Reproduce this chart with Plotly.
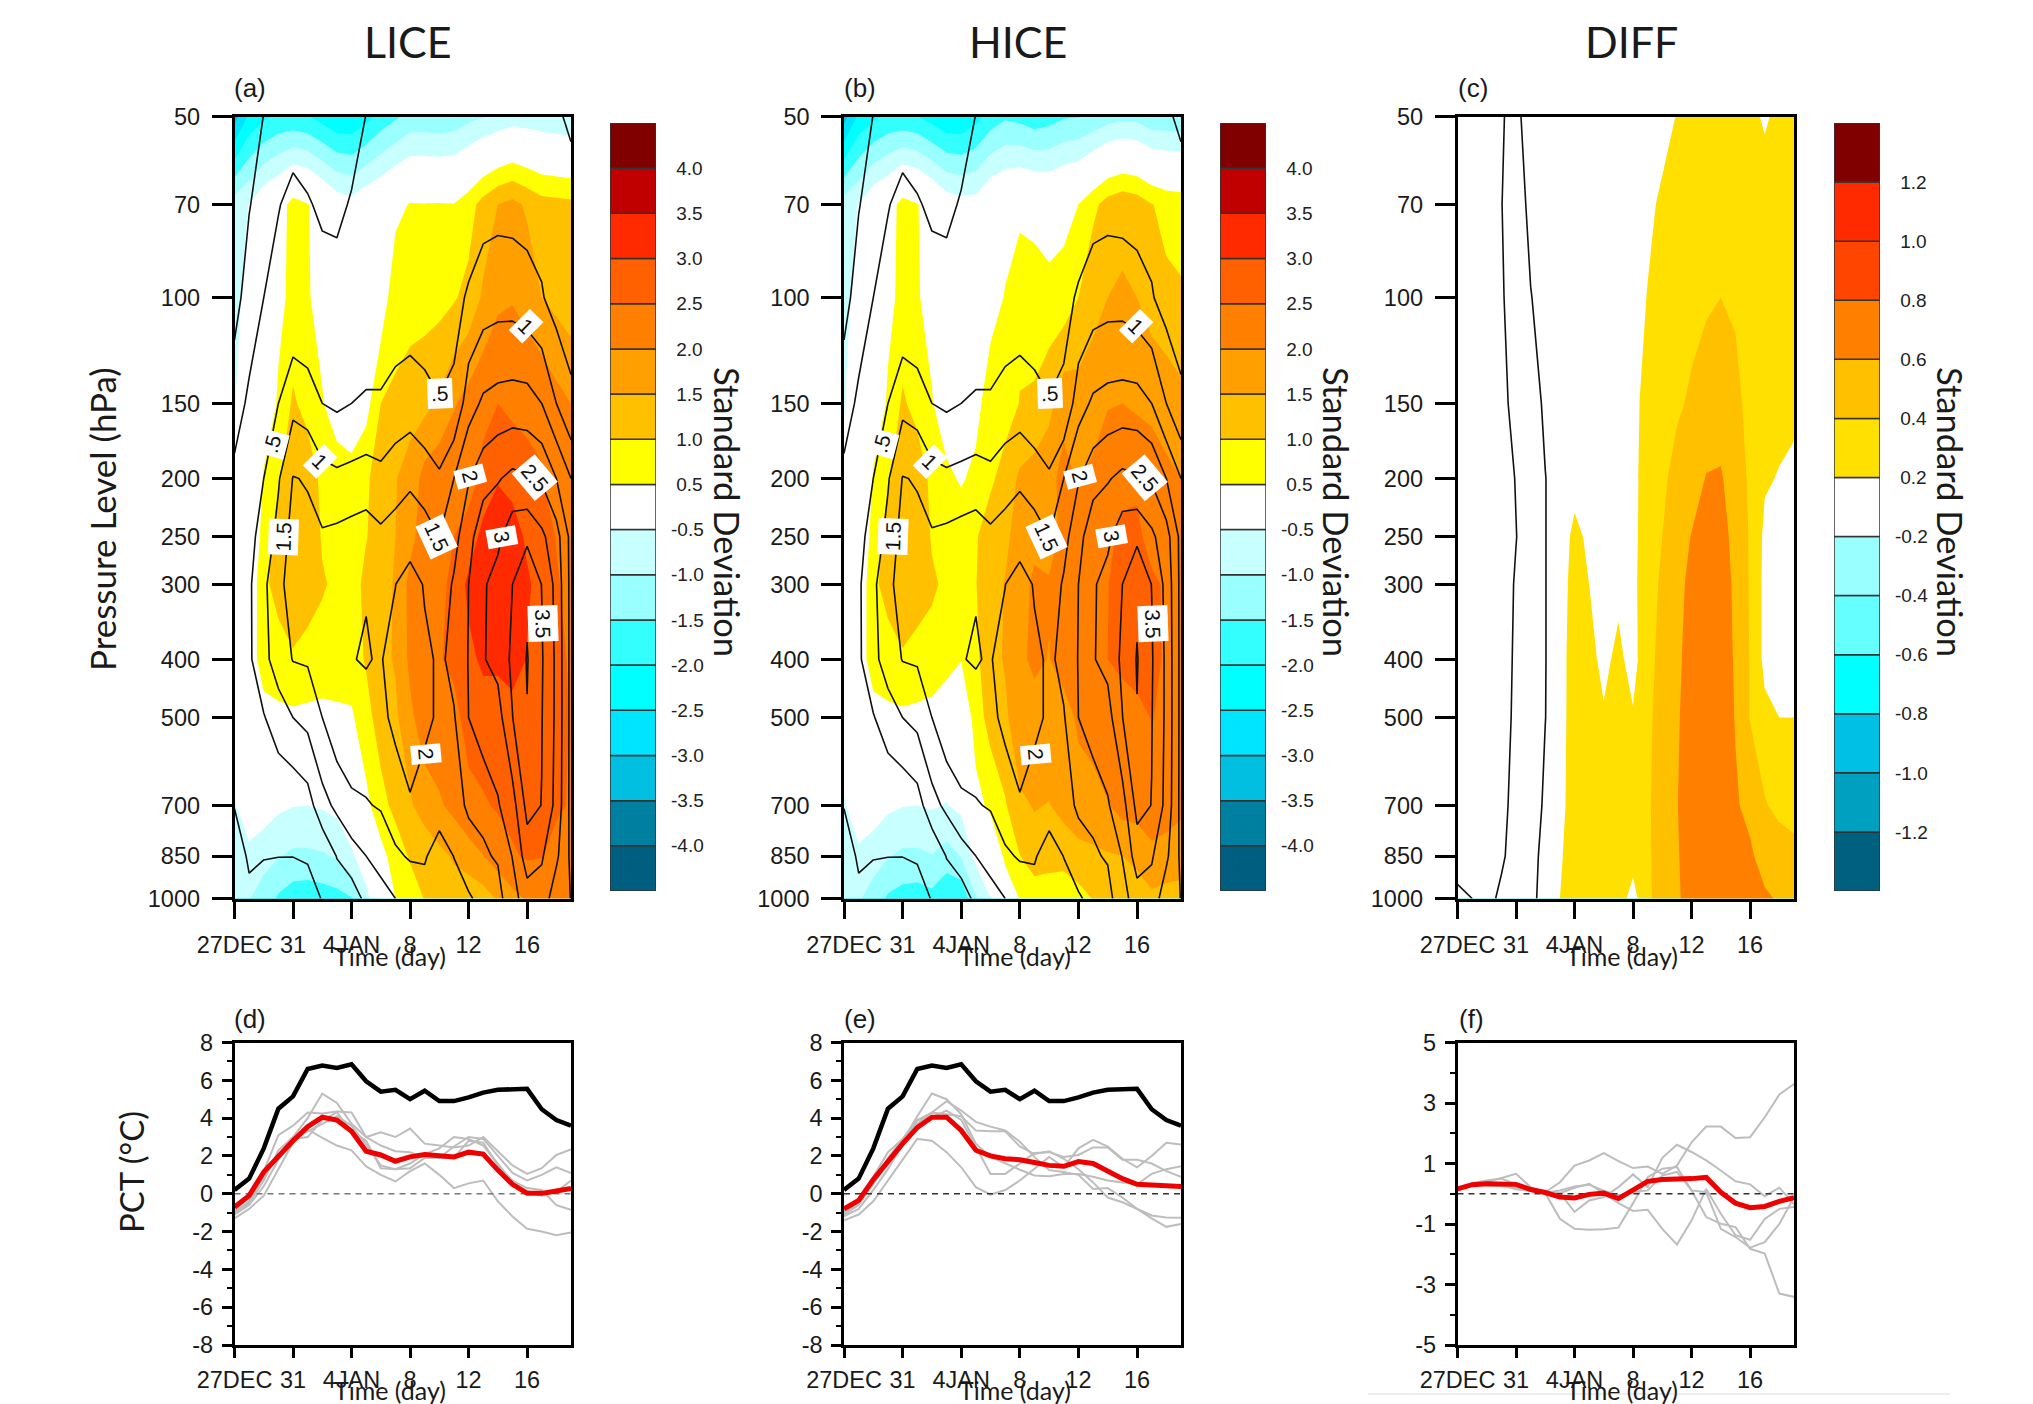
import numpy as np
import plotly.graph_objects as go

W, H = 2033, 1404
pressure_levels = [50, 70, 100, 150, 200, 250, 300, 400, 500, 700, 850, 1000]
days = list(range(24))
day_ticks = [0, 4, 8, 12, 16, 20]
day_labels = ["27DEC", "31", "4JAN", "8", "12", "16"]

# Each row: one day, values at pressure_levels (50 ... 1000 hPa)
all_lines = [
    [-1.3,-1.0,-0.7,-0.2,0.1,0.2,0.3,0.3,0.2,0.02,-0.3,-0.5],
    [-1.2,-0.53,-0.25,0.08,0.25,0.35,0.42,0.42,0.3,0.15,0.08,-0.12],
    [-0.47,-0.25,0,0.3,0.5,0.7,0.9,0.85,0.47,0.25,0.03,-0.3],
    [-0.35,-0.03,0.22,0.5,0.95,1.15,1.35,1.25,0.75,0.13,0.01,-0.35],
    [-0.3,0.17,0.05,0.85,1.52,1.7,1.75,1.52,1.0,0.12,0.01,-0.4],
    [-0.28,0.04,0.02,0.74,1.47,1.6,1.75,1.55,1.15,0.28,0.08,-0.34],
    [-0.25,-0.08,0.2,0.5,1.17,1.56,1.65,1.62,1.5,0.83,0.1,0.04],
    [-0.28,-0.1,0.18,0.42,1.1,1.62,1.75,1.85,1.89,1.11,0.52,0.2],
    [-0.2,0.04,0.2,0.5,1.15,1.69,1.9,1.99,1.82,1.42,0.77,0.25],
    [0.01,0.15,0.3,0.53,1.22,1.74,1.985,2.02,1.9,1.46,1.0,0.62],
    [0.1,0.2,0.3,0.53,1.14,1.6,1.85,1.97,1.9,1.55,1.1,0.9],
    [0.15,0.25,0.35,0.58,1.37,1.62,1.99,2.2,2.1,1.78,1.42,1.0],
    [0.2,0.26,0.26,0.7,1.48,1.57,2.39,2.45,2.4,1.93,1.55,1.15],
    [0.25,0.3,0.35,0.57,1.29,1.68,1.93,2.15,2.12,1.77,1.55,1.3],
    [0.3,0.32,0.38,0.51,1.07,1.5,1.75,1.9,1.92,1.75,1.25,1.2],
    [0.35,0.4,0.45,0.53,1.5,1.85,2.05,2.15,1.96,1.75,1.51,1.3],
    [0.4,0.4,0.52,1.29,1.97,2.3,2.5,2.52,2.5,2.1,1.7,1.46],
    [0.3,0.32,0.745,1.58,2.28,2.87,2.95,2.97,2.85,2.09,1.95,1.6],
    [0.32,0.35,0.8,1.667,2.46,2.9,3.16,3.15,2.8,2.46,2.04,1.85],
    [0.35,0.33,0.8,1.7,2.62,3.29,3.5,3.6,3.49,2.8,2.52,2.3],
    [0.32,0.31,0.696,1.69,2.55,3.4,3.9,4.03,3.98,3.65,3.25,2.77],
    [0.2,0.3,0.54,1.5,2.44,3.1,3.49,3.55,3.52,3.49,3.05,2.8],
    [0.1,0.28,0.29,1.0,2.0,2.7,2.85,2.9,2.9,2.85,2.6,2.2],
    [-0.12,0.3,0.42,0.53,1.5,1.85,1.85,1.85,1.85,1.85,1.9,1.99],
]
lice_fill = [
    [-3.2,-.75,-.62,-.52,-.4,-.3,-.25,-.1,-.1,-.55,-.7,-.85],
    [-2.4,-.48,-.35,-.25,-.15,-.05,.1,.15,.15,-.2,-.62,-.98],
    [-2.1,-.05,0,.2,.55,.7,.85,.8,.25,-.2,-.85,-1.19],
    [-1.9,.2,.4,.55,.92,1.25,1.25,.7,.42,-.4,-.97,-1.57],
    [-1.9,.7,.6,1.08,1.35,1.45,1.4,.93,.4,-.48,-1.1,-1.77],
    [-1.97,.53,.55,.8,1.36,1.4,1.45,.67,.44,-.5,-1.1,-1.81],
    [-2.2,.2,.3,.54,.85,.95,1.05,.8,.35,-.45,-1.05,-1.75],
    [-2.42,-.17,0,.15,.84,.9,.9,.82,.38,-.35,-.95,-1.67],
    [-2.43,-.3,-.1,.2,.65,.78,.8,.8,.42,-.1,-.58,-1.53],
    [-2.17,-.05,.05,.3,.95,.98,1.12,1.04,.85,.35,-.2,-.64],
    [-1.8,.1,.15,1.0,1.15,1.2,1.3,1.35,1.2,.85,.31,-.05],
    [-1.58,.35,.85,1.06,1.48,1.5,1.55,1.55,1.4,1.12,.75,.5],
    [-1.33,.53,.7,1.35,1.65,1.85,2.15,2.1,1.9,1.42,1.05,.75],
    [-1.33,.52,.8,1.35,2.2,2.25,2.3,2.3,2.25,1.78,1.1,1.02],
    [-1.37,.53,.82,1.6,2.35,2.35,2.4,2.45,2.35,1.93,1.38,1.1],
    [-1.3,.52,.95,1.95,2.45,2.5,2.6,2.65,2.3,2.15,1.55,1.3],
    [-1.13,.78,1.15,2.2,2.35,2.65,3.13,2.87,2.75,2.31,1.82,1.09],
    [-1.02,1.2,1.58,2.4,2.6,3.2,3.25,3.1,2.75,2.45,1.99,1.27],
    [-.9,1.5,1.9,2.5,2.95,3.4,3.42,3.12,2.7,2.55,2.25,1.56],
    [-.76,1.65,1.97,2.4,2.8,3.28,3.35,3.35,2.7,2.62,2.45,1.86],
    [-.8,1.42,1.85,2.33,2.7,2.9,3.08,2.97,2.9,2.85,2.55,2.05],
    [-.85,1.2,1.5,2.43,2.52,2.75,2.8,2.8,2.75,2.75,2.52,2.05],
    [-.9,1.16,1.35,2.18,2.3,2.48,2.55,2.62,2.62,2.6,2.29,2.05],
    [-.95,1.12,1.2,2.0,2.1,2.25,2.35,2.45,2.48,2.45,2.15,2.05],
]
hice_fill = [
    [-3.2,-.75,-.62,-.52,-.4,-.3,-.25,-.1,-.1,-.55,-.7,-.85],
    [-2.4,-.48,-.35,-.25,-.15,-.05,.1,.15,.15,-.2,-.6,-.95],
    [-2.1,-.05,0,.2,.55,.7,.85,.8,.25,-.2,-.8,-1.19],
    [-1.9,.2,.4,.55,.92,1.25,1.25,.7,.42,-.4,-.97,-1.57],
    [-1.9,.7,.6,1.08,1.35,1.45,1.4,.93,.4,-.48,-1.1,-1.7],
    [-1.97,.53,.55,.8,1.36,1.4,1.45,.67,.44,-.5,-1.1,-1.75],
    [-2.2,.2,.3,.54,.85,.95,1.08,.8,.33,-.45,-1.02,-1.65],
    [-2.42,-.17,0,.1,.65,.8,.9,.82,-.1,-.52,-1.2,-1.95],
    [-2.43,-.3,-.1,.1,.42,.95,.9,.52,-.1,-.38,-.98,-1.91],
    [-2.17,-.28,.05,.25,.68,.95,.98,.9,.75,.31,-.35,-1.05],
    [-1.78,.07,.2,.9,.9,1.3,1.35,1.3,1.2,.62,-.05,-.5],
    [-1.57,.22,.54,.75,1.22,1.4,1.52,1.55,1.4,.95,.6,.15],
    [-1.65,.35,.85,1.02,1.58,1.7,1.85,1.9,1.85,1.41,.99,.52],
    [-1.8,.3,.78,1.06,1.73,1.9,2.07,2.1,1.8,1.53,1.3,.67],
    [-1.7,.2,.68,1.35,1.85,1.78,2.05,1.98,1.85,1.48,1.2,.7],
    [-1.55,.35,.68,1.85,2.15,2.15,2.25,2.3,1.72,1.65,1.22,.6],
    [-1.52,.5,1.0,1.74,1.95,2.2,2.35,2.4,2.1,1.75,1.37,.79],
    [-1.37,.86,1.44,1.6,2.2,2.3,2.4,2.45,2.3,1.74,1.43,1.02],
    [-1.2,1.22,1.5,1.97,2.3,2.35,2.48,2.5,2.4,1.97,1.46,1.2],
    [-1.12,1.38,1.55,2.0,2.3,2.65,2.75,2.55,2.4,2.2,1.5,1.3],
    [-1.15,1.28,1.5,1.92,2.45,2.56,2.75,2.75,2.32,2.25,1.55,1.4],
    [-1.36,1.02,1.3,1.85,2.33,2.4,2.55,2.6,2.52,2.35,1.85,1.4],
    [-1.35,.85,1.12,1.82,2.09,2.25,2.47,2.45,2.4,2.28,1.76,1.35],
    [-1.36,.8,1.06,1.65,2.0,2.1,2.2,2.25,2.2,2.1,1.75,1.3],
]
diff_fill = [
    [.05,.05,.05,.05,.05,.05,.05,.05,.05,.05,.05,.05],
    [.05,.05,.05,.05,.05,.05,.05,.05,.05,.05,.05,.05],
    [.05,.05,.05,.05,.05,.05,.05,.05,.05,.05,.05,.05],
    [.05,.05,.05,.05,.05,.05,.05,.05,.05,.05,.05,.05],
    [.05,.05,.05,.05,.05,.05,.05,.05,.05,.05,.05,.08],
    [.05,.05,.05,.05,.05,.05,.05,.05,.05,.07,.08,.1],
    [.03,.03,.03,.03,.03,.04,.06,.07,.08,.1,.12,.15],
    [0,0,0,0,.02,.05,.08,.1,.12,.15,.18,.2],
    [0,.02,.05,.08,.1,.27,.3,.32,.3,.28,.28,.28],
    [0,.03,.06,.08,.1,.15,.2,.26,.28,.28,.28,.28],
    [.02,.04,.06,.08,.1,.12,.13,.15,.22,.28,.28,.28],
    [.03,.05,.07,.09,.1,.12,.15,.25,.27,.3,.3,.3],
    [.05,.07,.1,.12,.13,.13,.14,.12,.22,.3,.28,.12],
    [.1,.15,.21,.3,.32,.34,.35,.36,.37,.38,.38,.38],
    [.12,.24,.26,.3,.36,.4,.42,.44,.46,.47,.46,.45],
    [.21,.28,.32,.37,.47,.5,.53,.55,.57,.59,.57,.56],
    [.25,.3,.34,.43,.5,.61,.66,.7,.72,.75,.75,.72],
    [.28,.32,.38,.47,.61,.68,.7,.72,.73,.74,.74,.72],
    [.3,.33,.4,.5,.62,.66,.68,.7,.72,.72,.72,.7],
    [.28,.3,.37,.46,.5,.55,.57,.58,.59,.62,.65,.68],
    [.22,.26,.3,.33,.37,.38,.38,.39,.39,.55,.63,.66],
    [.19,.24,.26,.25,.22,.16,.15,.15,.25,.42,.52,.63],
    [.22,.25,.26,.25,.19,.1,.08,.08,.2,.33,.54,.58],
    [.24,.26,.26,.24,.16,.08,.06,.05,.2,.3,.48,.55],
]
diff_lines = [
    [-.75,-.75,-.75,-.75,-.75,-.75,-.75,-.75,-.75,-.75,-.8,-1.1],
    [-.72,-.72,-.72,-.72,-.72,-.72,-.72,-.72,-.72,-.72,-.75,-1.0],
    [-.65,-.62,-.65,-.7,-.75,-.75,-.75,-.75,-.75,-.72,-.7,-.7],
    [-.55,-.51,-.54,-.62,-.7,-.72,-.7,-.7,-.7,-.65,-.6,-.37],
    [-.31,-.3,-.32,-.36,-.48,-.51,-.46,-.43,-.4,-.32,-.22,-.15],
    [.6,.15,-.02,-.22,-.25,-.3,-.25,-.25,-.25,-.2,-.1,-.07],
    [.6,.3,.2,.08,-.01,-.01,-.01,-.01,-.005,.06,.09,.1],
    [.6,.4,.3,.25,.2,.2,.2,.2,.2,.2,.2,.2],
    [.6,.4,.3,.3,.3,.3,.3,.3,.3,.3,.3,.3],
    [.6,.4,.3,.3,.3,.3,.3,.3,.3,.3,.3,.3],
    [.6,.4,.3,.3,.3,.3,.3,.3,.3,.3,.3,.3],
    [.6,.4,.3,.3,.3,.3,.3,.3,.3,.3,.3,.3],
    [.6,.4,.3,.3,.3,.3,.3,.3,.3,.3,.3,.3],
    [.6,.4,.3,.3,.3,.3,.3,.3,.3,.3,.3,.3],
    [.6,.4,.3,.3,.3,.3,.3,.3,.3,.3,.3,.3],
    [.6,.4,.3,.3,.3,.3,.3,.3,.3,.3,.3,.3],
    [.6,.4,.3,.3,.3,.3,.3,.3,.3,.3,.3,.3],
    [.6,.4,.3,.3,.3,.3,.3,.3,.3,.3,.3,.3],
    [.6,.4,.3,.3,.3,.3,.3,.3,.3,.3,.3,.3],
    [.6,.4,.3,.3,.3,.3,.3,.3,.3,.3,.3,.3],
    [.6,.4,.3,.3,.3,.3,.3,.3,.3,.3,.3,.3],
    [.6,.4,.3,.3,.3,.3,.3,.3,.3,.3,.3,.3],
    [.6,.4,.3,.3,.3,.3,.3,.3,.3,.3,.3,.3],
    [.6,.4,.3,.3,.3,.3,.3,.3,.3,.3,.3,.3],
]

# PCT time series
all_black = [.2,.8,2.4,4.5,5.15,6.6,6.78,6.65,6.85,5.95,5.4,5.5,5.0,5.45,4.9,4.9,5.1,5.35,5.5,5.55,5.55,4.47,3.9,3.6]
lice_red = [-.7,-.1,1.15,2.0,2.8,3.55,4.05,3.9,3.3,2.25,2.05,1.72,1.95,2.08,2.0,1.95,2.2,2.1,1.25,.5,.02,.02,.15,.28]
lice_gray = [
    [-1.0,-.4,.9,2.0,3.0,4.0,5.3,4.8,3.7,3.0,3.25,3.0,3.45,2.65,2.55,2.45,2.55,3.0,2.25,1.5,1.05,1.35,2.05,2.35],
    [-.9,-.2,1.2,3.1,3.6,4.3,4.25,4.35,4.3,3.0,2.55,2.25,2.2,1.9,1.9,2.5,3.0,2.9,2.0,1.1,.7,1.0,1.4,1.1],
    [-1.3,-.8,-.1,1.3,2.7,3.4,2.95,2.55,2.3,1.45,1.0,.65,1.2,1.6,1.0,.3,.55,.7,-.4,-1.2,-1.85,-2.0,-2.2,-2.05],
    [-1.1,-.6,.4,1.8,2.9,3.0,3.9,4.3,3.3,2.8,1.35,1.3,1.35,1.9,1.9,1.9,2.8,2.7,1.5,.7,.3,.2,-.6,-.85],
    [-1.0,-.5,.7,2.3,3.0,3.3,3.7,4.1,3.6,2.6,1.5,1.3,1.6,2.1,2.4,3.0,2.9,2.55,1.6,.6,.15,-.1,.1,.7],
]
hice_red = [-.8,-.35,.75,1.75,2.65,3.5,4.05,4.05,3.35,2.3,2.0,1.85,1.8,1.65,1.5,1.45,1.7,1.6,1.2,.8,.5,.47,.42,.38]
hice_gray = [
    [-1.0,-.5,.6,1.9,2.9,3.7,4.3,4.9,4.4,3.8,3.55,3.35,2.75,1.95,1.25,1.15,1.0,.25,.3,-.2,-.8,-1.3,-1.75,-1.6],
    [-.9,-.3,.9,2.2,2.9,3.9,4.3,4.2,4.1,3.35,3.3,3.3,2.5,2.1,2.25,1.85,1.3,.6,-.2,-.45,-.8,-1.15,-1.25,-1.27],
    [-1.1,-.6,.5,1.7,2.8,4.1,5.3,5.0,4.2,2.65,1.95,1.6,1.27,.97,.93,1.05,1.05,.9,.7,.6,.5,1.05,1.3,1.45],
    [-1.4,-1.1,-.4,.7,1.8,2.9,2.8,2.2,1.4,.35,-.05,.2,.7,1.3,1.95,1.4,2.4,2.85,2.5,1.85,1.4,2.0,2.7,2.6],
    [-1.2,-.8,.2,1.3,2.6,3.9,4.05,4.4,3.9,2.45,1.05,1.05,1.6,2.15,2.2,1.95,2.05,2.45,2.45,1.8,1.8,1.6,1.2,.9],
]
diff_red = [.16,.30,.33,.32,.31,.14,.04,-.11,-.14,-.02,.02,-.16,.14,.41,.47,.47,.50,.54,.05,-.31,-.46,-.42,-.25,-.13]
diff_gray = [
    [.16,.35,.44,.5,.31,.16,.05,.38,.93,1.1,1.34,1.08,.85,.9,.66,.93,1.7,2.22,2.22,1.84,1.87,2.53,3.28,3.63],
    [.11,.31,.38,.53,.66,.22,.02,-.83,-1.16,-1.19,-1.17,-1.12,-.31,.55,.83,.88,.11,-.77,-.99,-1.1,-1.82,-1.98,-3.3,-3.41],
    [.15,.28,.3,.25,.2,.1,.02,.02,.2,.33,0,-.31,-.57,-.53,-1.16,-1.68,-.88,.16,-.66,-1.37,-1.52,-.83,-.5,-.44],
    [.14,.27,.33,.3,.18,.1,.05,.02,-.6,-.22,-.11,.22,.64,.22,1.19,1.62,1.38,1.1,.77,.41,.31,-.08,.2,-.35],
    [.13,.26,.31,.28,.15,.08,.03,.11,.24,.3,.1,-.05,.05,.11,.6,.72,.11,.05,-1.16,-1.43,-1.78,-1.6,-1.0,-.11],
]
zero_line = [0] * 24

# Colour boxes of the bars, bottom to top
sd_colors = ["#005f80","#0080a0","#00bfe0","#00e5ff","#00ffff","#33ffff","#99ffff","#c8ffff","#ffffff",
             "#ffff00","#ffc000","#ff9f00","#ff8000","#ff6000","#ff2a00","#c00000","#800000"]
sd_labels = ["-4.0","-3.5","-3.0","-2.5","-2.0","-1.5","-1.0","-0.5","0.5","1.0","1.5","2.0","2.5","3.0","3.5","4.0"]
diff_colors = ["#006080","#00a0c0","#00c0e5","#00ffff","#66ffff","#99ffff","#ffffff",
               "#ffe000","#ffc000","#ff8000","#ff4500","#ff2a00","#800000"]
diff_labels = ["-1.2","-1.0","-0.8","-0.6","-0.4","-0.2","0.2","0.4","0.6","0.8","1.0","1.2"]

FONT = "Liberation Sans"
LABEL_FONT = "Lato"
INK = "#1a1a1a"
log_p = np.log10(pressure_levels)


def px_x(a, b):
    return [a / W, b / W]


def px_y(top, bottom):
    return [1 - bottom / H, 1 - top / H]


def band_scale(band_colors):
    n = len(band_colors) - 1
    return [[i / n, c] for i, c in enumerate(band_colors)]


fig = go.Figure()
layout = {}
panel_x = [(234.5, 571), (844, 1181), (1457.5, 1794)]
bar_x = [(610, 656), (1220, 1266), (1834, 1880)]
TOP_Y = (116.7, 898.5)
LOW_Y = (1042.5, 1345)
BAR_Y = (123, 891)

annotations = []


def note(text, x, y, size, font=FONT, angle=0, xanchor="center", yanchor="middle", color=INK):
    annotations.append(dict(text=text, x=x / W, y=1 - y / H, xref="paper", yref="paper", showarrow=False,
                            font=dict(family=font, size=size, color=color), textangle=angle,
                            xanchor=xanchor, yanchor=yanchor))


def axis_common():
    return dict(showgrid=False, zeroline=False, showline=True, linecolor="black", linewidth=2.5, mirror=True,
                ticks="outside", tickcolor="black", tickwidth=2.5,
                tickfont=dict(family=FONT, size=23.5, color=INK))


# pressure-time panels
fills = [lice_fill, hice_fill, diff_fill]
lines = [all_lines, all_lines, diff_lines]
for i in range(3):
    ax = 2 * i + 1
    xa, ya = f"x{ax}", f"y{ax}"
    if i < 2:
        bands = sd_colors[:8] + ["#ffffff"] + sd_colors[8:]
        start, end, size = -4.0, 4.0, 0.5
        l_start, l_end, l_size = -0.5, 4.0, 0.5
    else:
        bands = diff_colors[:6] + ["#ffffff"] + diff_colors[6:]
        start, end, size = -1.2, 1.21, 0.2
        l_start, l_end, l_size = -1.0, 0.0, 0.5
    fig.add_trace(go.Contour(x=days, y=log_p, z=np.array(fills[i]).T.tolist(), xaxis=xa, yaxis=ya,
                             colorscale=band_scale(bands), showscale=False, autocontour=False,
                             contours=dict(start=start, end=end, size=size, coloring="fill", showlines=False),
                             line=dict(width=0, smoothing=0), hoverinfo="skip"))
    fig.add_trace(go.Contour(x=days, y=log_p, z=np.array(lines[i]).T.tolist(), xaxis=xa, yaxis=ya,
                             showscale=False, autocontour=False,
                             contours=dict(start=l_start, end=l_end, size=l_size, coloring="none"),
                             line=dict(color="#111111", width=1.6, smoothing=0), hoverinfo="skip"))
    layout[f"xaxis{ax}"] = dict(axis_common(), domain=px_x(*panel_x[i]), range=[0, 23], anchor=ya,
                                tickmode="array", tickvals=day_ticks, ticktext=day_labels,
                                ticklen=18, ticklabelstandoff=6)
    layout[f"yaxis{ax}"] = dict(axis_common(), domain=px_y(*TOP_Y), range=[log_p[-1], log_p[0]], anchor=xa,
                                tickmode="array", tickvals=log_p.tolist(),
                                ticktext=[str(p) for p in pressure_levels], ticklen=20, ticklabelstandoff=7)

# time-series panels
reds = [lice_red, hice_red, diff_red]
grays = [lice_gray, hice_gray, diff_gray]
for i in range(3):
    ax = 2 * i + 7
    xa, ya = f"x{ax}", f"y{ax}"
    for g in grays[i]:
        fig.add_trace(go.Scatter(x=days, y=g, xaxis=xa, yaxis=ya, mode="lines",
                                 line=dict(color="#bdbdbd", width=2), hoverinfo="skip", showlegend=False))
    fig.add_trace(go.Scatter(x=days, y=zero_line, xaxis=xa, yaxis=ya, mode="lines",
                             line=dict(color="#777777" if i == 0 else "#333333", width=1.6, dash="6px,5px"),
                             hoverinfo="skip", showlegend=False))
    if i < 2:
        fig.add_trace(go.Scatter(x=days, y=all_black, xaxis=xa, yaxis=ya, mode="lines",
                                 line=dict(color="black", width=4.5), hoverinfo="skip", showlegend=False))
    fig.add_trace(go.Scatter(x=days, y=reds[i], xaxis=xa, yaxis=ya, mode="lines",
                             line=dict(color="#ee0000", width=5), hoverinfo="skip", showlegend=False))
    layout[f"xaxis{ax}"] = dict(axis_common(), domain=px_x(*panel_x[i]), range=[0, 23], anchor=ya,
                                tickmode="array", tickvals=day_ticks, ticktext=day_labels,
                                ticklen=10, ticklabelstandoff=2)
    if i < 2:
        rng, major = [-8, 8], [-8, -6, -4, -2, 0, 2, 4, 6, 8]
        minor = [v for v in range(-7, 8, 2)]
    else:
        rng, major = [-5, 5], [-5, -3, -1, 1, 3, 5]
        minor = [-4, -2, 0, 2, 4]
    layout[f"yaxis{ax}"] = dict(axis_common(), domain=px_y(*LOW_Y), range=rng, anchor=xa,
                                tickmode="array", tickvals=major, ticktext=[str(v) for v in major],
                                ticklen=10, ticklabelstandoff=4,
                                minor=dict(tickmode="array", tickvals=minor, ticks="outside", ticklen=5,
                                           tickcolor="black", tickwidth=2))

# colour bars
bar_sets = [(sd_colors, sd_labels), (sd_colors, sd_labels), (diff_colors, diff_labels)]
for i, (colors, labels) in enumerate(bar_sets):
    ax = 2 * i + 13
    xa, ya = f"x{ax}", f"y{ax}"
    n = len(colors)
    fig.add_trace(go.Bar(x=[0] * n, y=[1] * n, base=list(range(n)), width=1, xaxis=xa, yaxis=ya,
                         orientation="v", marker=dict(color=colors, line=dict(color="#333333", width=1.5)),
                         hoverinfo="skip", showlegend=False))
    layout[f"xaxis{ax}"] = dict(domain=px_x(*bar_x[i]), range=[-0.5, 0.5], anchor=ya, visible=False)
    layout[f"yaxis{ax}"] = dict(domain=px_y(*BAR_Y), range=[0, n], anchor=xa, side="right", showgrid=False,
                                zeroline=False, showline=False, ticks="", tickmode="array",
                                tickvals=list(range(1, n)),
                                ticktext=[t if t.startswith("-") else "\u00a0" + t for t in labels],
                                ticklabelstandoff=14, tickfont=dict(family=FONT, size=19, color="#222222"))

# titles and texts
for t, cx in zip(["LICE", "HICE", "DIFF"], [408, 1018, 1631]):
    note(t, cx, 41, 43, LABEL_FONT)
for t, x, y in [("(a)", 250, 88), ("(b)", 860, 88), ("(c)", 1473, 88),
                ("(d)", 250, 1019), ("(e)", 860, 1019), ("(f)", 1471, 1019)]:
    note(t, x, y, 26, FONT)
note("Pressure Level (hPa)", 102, 519, 35, LABEL_FONT, angle=-90)
note("PCT (\u00b0C)", 131, 1172, 33, LABEL_FONT, angle=-90)
for x in [727, 1336, 1950]:
    note("Standard Deviation", x, 512, 34.5, LABEL_FONT, angle=90)
for x in [390, 1015, 1622]:
    note("Time (day)", x, 956, 25, LABEL_FONT)
    note("Time (day)", x, 1390, 25, LABEL_FONT)

# contour line labels (panels a and b share the same line field)
line_labels = [(".5", 2.57, 2.243, -75), (".5", 14.05, 2.159, -2), ("1", 5.86, 2.273, 45), ("1", 19.95, 2.048, 45),
               ("1.5", 3.36, 2.398, -88), ("1.5", 13.8, 2.398, 65), ("2", 16.1, 2.298, 75), ("2", 13.1, 2.76, 85),
               ("2.5", 20.5, 2.30, 50), ("3", 18.25, 2.398, 80), ("3.5", 21.1, 2.542, 88)]
for ax in ("1", "3"):
    for text, d, lp, ang in line_labels:
        annotations.append(dict(text=text, x=d, y=lp, xref=f"x{ax}", yref=f"y{ax}", showarrow=False,
                                textangle=ang, bgcolor="white", borderpad=3,
                                font=dict(family=FONT, size=21, color="#111111")))

shapes = [dict(type="line", xref="paper", yref="paper", x0=1368 / W, x1=1950 / W, y0=1 - 1394 / H, y1=1 - 1394 / H,
               line=dict(color="#dddddd", width=1))]

fig.update_layout(width=W, height=H, margin=dict(l=0, r=0, t=0, b=0, autoexpand=False), paper_bgcolor="white",
                  plot_bgcolor="white", showlegend=False, barmode="overlay", annotations=annotations, shapes=shapes,
                  **layout)

fig.write_html("out.html", post_script="document.body.style.margin='0';", config={"displayModeBar": False})
